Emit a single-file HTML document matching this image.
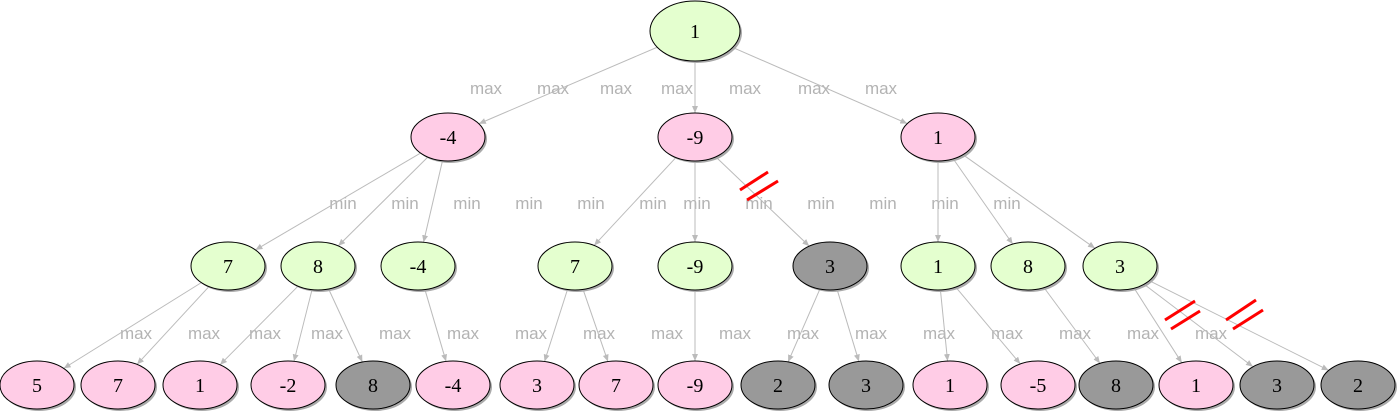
<!DOCTYPE html>
<html><head><style>body{margin:0;background:#fff}svg{display:block}</style></head>
<body>
<svg id="s" width="1398" height="414" xmlns="http://www.w3.org/2000/svg" font-family="Liberation Serif, serif">
<defs><marker id="a" markerWidth="8" markerHeight="8" refX="7" refY="3" orient="auto" markerUnits="userSpaceOnUse"><path d="M0,0 L7,3 L0,6 z" fill="#bbb"/></marker></defs>
<g id="lbl" font-family="Liberation Sans, sans-serif" font-size="17" fill="#b3b3b3" text-anchor="middle"></g>
<g id="edges"></g><g id="nodes"></g>
<g stroke="#f00" stroke-width="3">
<line x1="740" y1="190" x2="768" y2="172"/><line x1="747" y1="200" x2="778" y2="181"/>
<line x1="1165" y1="320" x2="1195" y2="301"/><line x1="1171" y1="329" x2="1200" y2="311"/>
<line x1="1226" y1="320" x2="1256" y2="300"/><line x1="1233" y1="329" x2="1263" y2="310"/>
</g>
</svg>
<script>
const G='#e4ffcf',P='#ffcce6',D='#999';
const N={r:[695,31,45,30,'1',G]};
const L1=[['a',448,'-4',P],['b',695,'-9',P],['c',938,'1',P]];
const L2=[['d',228,'7',G],['e',318,'8',G],['f',418,'-4',G],['g',575,'7',G],['h',695,'-9',G],['i',830,'3',D],['j',938,'1',G],['k',1028,'8',G],['l',1120,'3',G]];
const L3=[['m',37,'5',P],['n',118,'7',P],['o',200,'1',P],['p',288,'-2',P],['q',373,'8',D],['s',453,'-4',P],['t',537,'3',P],['u',616,'7',P],['v',695,'-9',P],['w',778,'2',D],['x',866,'3',D],['y',950,'1',P],['z',1038,'-5',P],['A',1116,'8',D],['B',1196,'1',P],['C',1277,'3',D],['E',1358,'2',D]];
L1.forEach(n=>N[n[0]]=[n[1],137,37,24,n[2],n[3]]);
L2.forEach(n=>N[n[0]]=[n[1],266,37,24,n[2],n[3]]);
L3.forEach(n=>N[n[0]]=[n[1],385,37,24,n[2],n[3]]);
const E='ra rb rc ad ae af bg bh bi cj ck cl dm dn eo ep eq fs gt gu hv iw ix jy jz kA lB lC lE';
const ns='http://www.w3.org/2000/svg';
function el(t,a,p,txt){const e=document.createElementNS(ns,t);for(const k in a)e.setAttribute(k,a[k]);if(txt!==undefined)e.textContent=txt;document.getElementById(p).appendChild(e);}
function bd(n,dx,dy){const t=1/Math.sqrt(dx*dx/(n[2]*n[2])+dy*dy/(n[3]*n[3]));return [n[0]+dx*t,n[1]+dy*t];}
E.split(' ').forEach(s=>{const a=N[s[0]],b=N[s[1]];const dx=b[0]-a[0],dy=b[1]-a[1];const p=bd(a,dx,dy),q=bd(b,-dx,-dy);
el('line',{x1:p[0],y1:p[1],x2:q[0],y2:q[1],stroke:'#bbb','stroke-width':1,'marker-end':'url(#a)'},'edges');});
for(const k in N){const n=N[k];
el('ellipse',{cx:n[0]+2,cy:n[1]+2,rx:n[2],ry:n[3],fill:'#aaa'},'nodes');
el('ellipse',{cx:n[0],cy:n[1],rx:n[2],ry:n[3],fill:n[5],stroke:'#000','stroke-width':1},'nodes');
el('text',{x:n[0],y:n[1]+7,'text-anchor':'middle','font-size':20,fill:'#000'},'nodes',n[4]);}
[486,553,616,677,745,814,881].forEach(x=>el('text',{x:x,y:94},'lbl','max'));
[343,405,467,529,591,653,697,759,821,883,945,1007].forEach(x=>el('text',{x:x,y:209},'lbl','min'));
[136,204,265,327,395,463,531,599,667,735,803,871,939,1007,1075,1143,1211].forEach(x=>el('text',{x:x,y:339},'lbl','max'));
</script>
</body></html>
